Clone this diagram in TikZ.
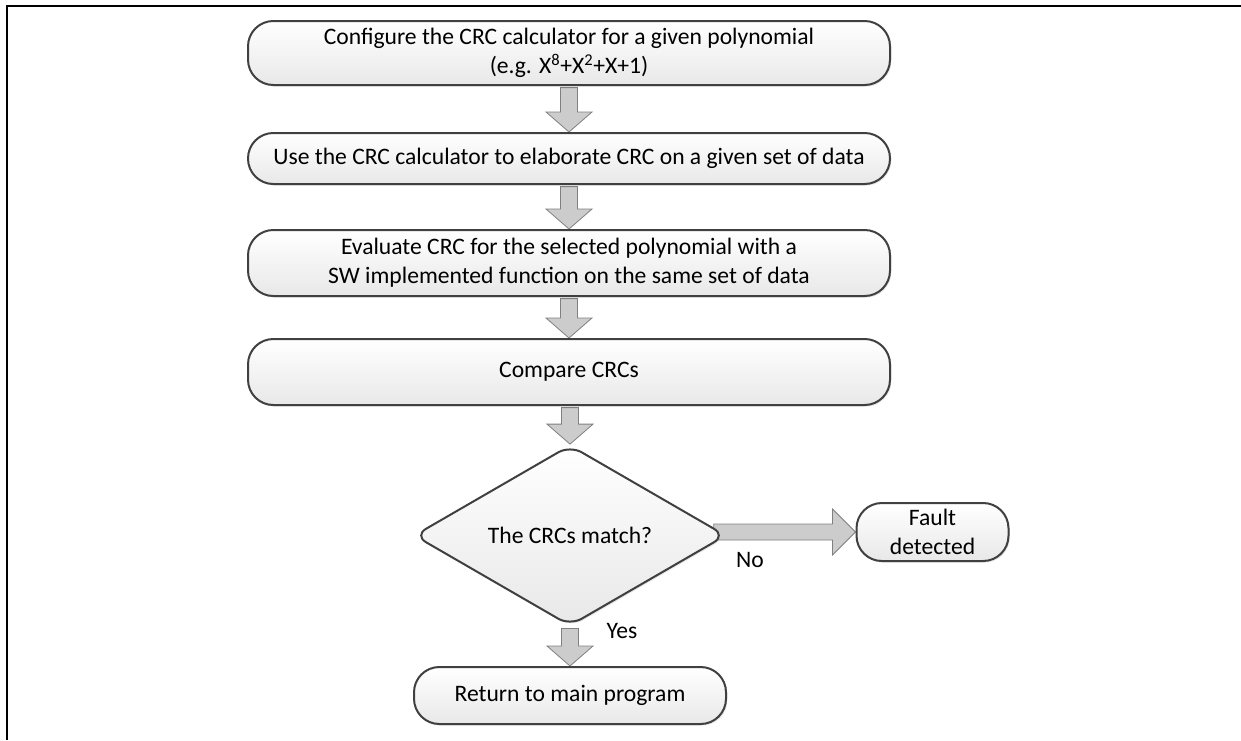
\documentclass[tikz,border=0pt]{standalone}
\usepackage{fontspec}
\setmainfont{Carlito}
\usetikzlibrary{shapes.geometric,shadows,calc,backgrounds}
\tikzset{
  procbox/.style={draw=black!75, line width=1.5pt, rounded corners=19pt,
    top color=white, bottom color=black!9,
    drop shadow={shadow xshift=1pt,shadow yshift=-1.2pt,opacity=0.2},
    align=center, inner sep=0pt},
  decbox/.style={procbox, shape=diamond, rounded corners=10pt},
  blockarr/.style={draw=black!50, line width=0.6pt, fill=black!20, line join=miter},
  lbl/.style={inner sep=0pt}
}
\newcommand\varrow[2]{%
  \draw[blockarr] let \p1=(#1.south), \p2=(#2.north) in
   (\x2-6.375pt,\y1-1.2pt) -- (\x2-6.375pt,\y2+15pt) -- (\x2-17.25pt,\y2+15pt)
   -- (\x2,\y2) -- (\x2+17.25pt,\y2+15pt) -- (\x2+6.375pt,\y2+15pt)
   -- (\x2+6.375pt,\y1-1.2pt) -- cycle;}
\begin{document}
\begin{tikzpicture}[x=0.75pt,y=-0.75pt,font=\fontsize{17.7}{21.6}\selectfont]
\useasboundingbox (0,0) rectangle (1241,740);
\draw[line width=1.5pt] (7,740) -- (7,5.7) -- (1241,5.7);

\node[procbox, minimum width=481.5pt, minimum height=48pt] (b1) at (569,53)
  {Configure the CRC calculator for a given polynomial\\(e.g. X\textsuperscript{8}+X\textsuperscript{2}+X+1)};
\node[procbox, minimum width=481.5pt, minimum height=38.25pt] (b2) at (569,158.5)
  {Use the CRC calculator to elaborate CRC on a given set of data};
\node[procbox, minimum width=481.5pt, minimum height=49.5pt] (b3) at (569,263)
  {Evaluate CRC for the selected polynomial with a\\SW implemented function on the same set of data};
\node[procbox, minimum width=481.5pt, minimum height=49.5pt] (b4) at (569,372)
  {Compare CRCs};
\node[decbox, minimum width=234pt, minimum height=125pt] (d) at (570,535.5)
  {The CRCs match?};
\node[procbox, minimum width=114pt, minimum height=43.5pt] (f) at (932.5,532)
  {Fault\\detected};
\node[procbox, minimum width=234pt, minimum height=42.75pt] (r) at (570,695.5)
  {Return to main program};

\node[lbl] (no) at (750,560) {No};
\node[lbl] (yes) at (622,631) {Yes};

\begin{pgfonlayer}{background}
\varrow{b1}{b2}
\varrow{b2}{b3}
\varrow{b3}{b4}
\varrow{b4}{d}
\varrow{d}{r}
\draw[blockarr] let \p1=(d.east), \p2=(f.west) in
  (\x1-10pt,\y2-6pt) -- (\x2-17.25pt,\y2-6pt) -- (\x2-17.25pt,\y2-17.25pt)
  -- (\x2,\y2) -- (\x2-17.25pt,\y2+17.25pt) -- (\x2-17.25pt,\y2+6pt)
  -- (\x1-10pt,\y2+6pt) -- cycle;
\end{pgfonlayer}
\end{tikzpicture}
\end{document}
